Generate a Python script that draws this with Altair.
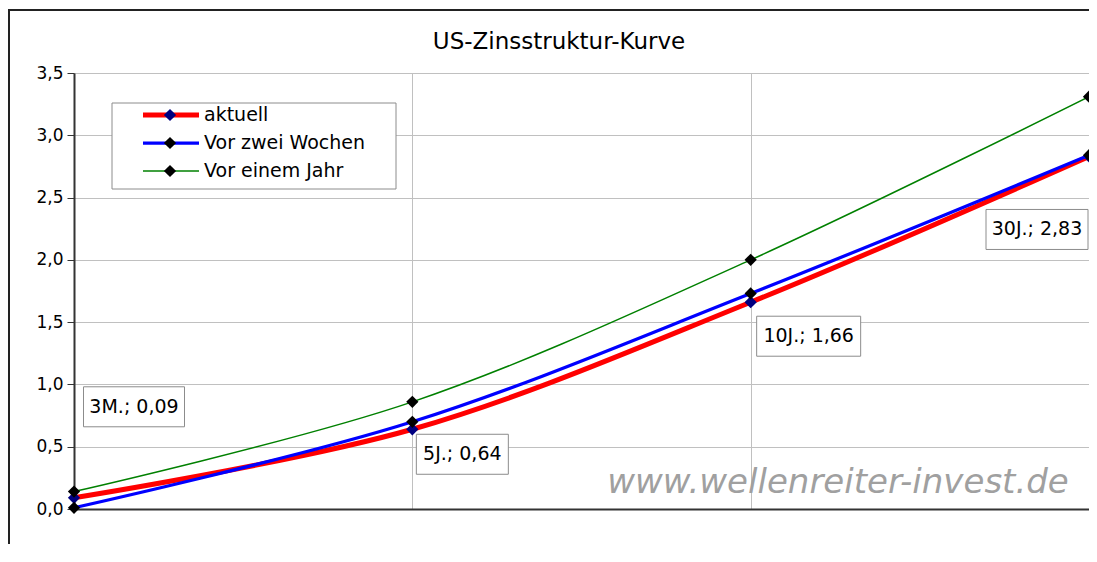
import altair as alt
import pandas as pd

# ---- data ----
tenors = ["3M.", "5J.", "10J.", "30J."]
aktuell = [0.09, 0.64, 1.66, 2.83]
vor_zwei_wochen = [0.01, 0.70, 1.73, 2.84]
vor_einem_jahr = [0.14, 0.86, 2.00, 3.31]
series_names = ["aktuell", "Vor zwei Wochen", "Vor einem Jahr"]
y_ticks = [0.0, 0.5, 1.0, 1.5, 2.0, 2.5, 3.0, 3.5]
title_text = "US-Zinsstruktur-Kurve"
watermark_text = "www.wellenreiter-invest.de"

# ---- styles ----
line_colors = ["#ff0000", "#0000ff", "#008000"]
marker_colors = ["#000080", "#000000", "#000000"]
line_widths = [5, 1.5, 1.5]
FONT = "DejaVu Sans"
# label box layout per tenor: (dx, dy, width, height) relative to the data point
label_layout = [(60, -91, 101, 40), (50, 25, 92, 40), (58, 34, 104, 40), (-52, 73, 102, 40)]

rows = []
for name, vals in zip(series_names, [aktuell, vor_zwei_wochen, vor_einem_jahr]):
    for i, (t, v) in enumerate(zip(tenors, vals)):
        rows.append({"series": name, "tenor": t, "pos": i, "value": v})
df = pd.DataFrame(rows)

lab = pd.DataFrame({
    "tenor": tenors,
    "pos": list(range(len(tenors))),
    "value": aktuell,
})
lab["label"] = [t + "; " + f"{v:.2f}".replace(".", ",") for t, v in zip(tenors, aktuell)]

legend_df = pd.DataFrame({"series": series_names})
one = pd.DataFrame({"k": [0]})

color_scale = alt.Scale(domain=series_names, range=line_colors)
fill_scale = alt.Scale(domain=series_names, range=marker_colors)
width_scale = alt.Scale(domain=series_names, range=line_widths)

x_enc = alt.X(
    "pos:Q",
    scale=alt.Scale(domain=[0, len(tenors) - 1], nice=False, zero=False),
    axis=alt.Axis(values=list(range(len(tenors))), labels=False, ticks=False, title=None,
                  grid=True, gridColor="#c0c0c0", gridWidth=1,
                  domainColor="#333333", domainWidth=2),
)
y_enc = alt.Y(
    "value:Q",
    scale=alt.Scale(domain=[0, 3.5], nice=False),
    axis=alt.Axis(values=y_ticks, title=None,
                  labelExpr="replace(format(datum.value, '.1f'), '.', ',')",
                  labelFont=FONT, labelFontSize=17, labelColor="#000000", labelPadding=4,
                  tickSize=7, tickColor="#333333", tickWidth=1,
                  domainColor="#333333", domainWidth=2,
                  grid=True, gridColor="#c0c0c0", gridWidth=1),
)

base = alt.Chart(df)

# decorations (outer frame: top and left edges only, title, watermark)
frame_top = alt.Chart(one).mark_rule(color="#222222", strokeWidth=2).encode(
    x=alt.value(-66), x2=alt.value(1040), y=alt.value(-63)
)
frame_left = alt.Chart(one).mark_rule(color="#222222", strokeWidth=2).encode(
    x=alt.value(-65), y=alt.value(-64), y2=alt.value(520)
)
title = alt.Chart(one).mark_text(text=title_text, font=FONT, fontSize=23, align="center",
                                 baseline="alphabetic", color="#000000").encode(
    x=alt.value(485), y=alt.value(-24)
)
watermark = alt.Chart(one).mark_text(text=watermark_text, font=FONT, fontSize=34, fontStyle="italic",
                                     align="center", baseline="alphabetic", color="#a0a0a0").encode(
    x=alt.value(764), y=alt.value(420)
)

layers = [watermark]
for name in series_names:
    sub = base.transform_filter(alt.datum.series == name)
    layers.append(
        sub.mark_line(interpolate="catmull-rom").encode(
            x=x_enc, y=y_enc,
            color=alt.Color("series:N", scale=color_scale, legend=None),
            strokeWidth=alt.StrokeWidth("series:N", scale=width_scale, legend=None),
        )
    )
    layers.append(
        sub.mark_point(shape="diamond", filled=True, size=150, opacity=1, strokeWidth=0).encode(
            x=x_enc, y=y_enc,
            fill=alt.Fill("series:N", scale=fill_scale, legend=None),
        )
    )

for i, (dx, dy, w, h) in enumerate(label_layout):
    sub = alt.Chart(lab).transform_filter(alt.datum.pos == i)
    layers.append(
        sub.mark_rect(fill="white", stroke="#8c8c8c", strokeWidth=1,
                      xOffset=dx - w / 2, x2Offset=dx + w / 2,
                      yOffset=dy - h / 2, y2Offset=dy + h / 2).encode(
            x=x_enc, x2="pos:Q", y=y_enc, y2="value:Q"
        )
    )
    layers.append(
        sub.mark_text(dx=dx, dy=dy, align="center", baseline="middle", font=FONT,
                      fontSize=19, color="#000000").encode(
            x=x_enc, y=y_enc, text="label:N"
        )
    )

main = alt.layer(*layers)

# manual legend (line + diamond symbol)
leg_y = alt.Y("series:N", sort=series_names,
              scale=alt.Scale(type="point", domain=series_names, range=[42, 98], padding=0),
              axis=None)
leg_box = alt.Chart(legend_df).transform_aggregate(n="count()").mark_rect(
    fill="white", stroke="#8c8c8c", strokeWidth=1).encode(
    x=alt.value(38), x2=alt.value(322), y=alt.value(30), y2=alt.value(116)
)
leg_lines = alt.Chart(legend_df).mark_rule().encode(
    x=alt.value(69), x2=alt.value(125), y=leg_y,
    color=alt.Color("series:N", scale=color_scale, legend=None),
    strokeWidth=alt.StrokeWidth("series:N", scale=width_scale, legend=None),
)
leg_pts = alt.Chart(legend_df).mark_point(shape="diamond", filled=True, size=150, opacity=1,
                                          strokeWidth=0).encode(
    x=alt.value(96), y=leg_y,
    fill=alt.Fill("series:N", scale=fill_scale, legend=None),
)
leg_txt = alt.Chart(legend_df).mark_text(align="left", baseline="middle", font=FONT, fontSize=19,
                                         color="#000000").encode(
    x=alt.value(130), y=leg_y, text="series:N"
)
legend = alt.layer(leg_box, leg_lines, leg_pts, leg_txt)

deco = alt.layer(frame_top, frame_left, title)

chart = alt.layer(deco, main, legend).resolve_scale(y="independent").properties(
    width=1015,
    height=436,
    autosize=alt.AutoSizeParams(type="none"),
    padding={"left": 66, "top": 65, "right": 0, "bottom": 35},
    background="white",
).configure_view(stroke="#808080", strokeWidth=1).configure(font=FONT)

chart.save("out.html", embed_options={"renderer": "svg", "actions": False})
